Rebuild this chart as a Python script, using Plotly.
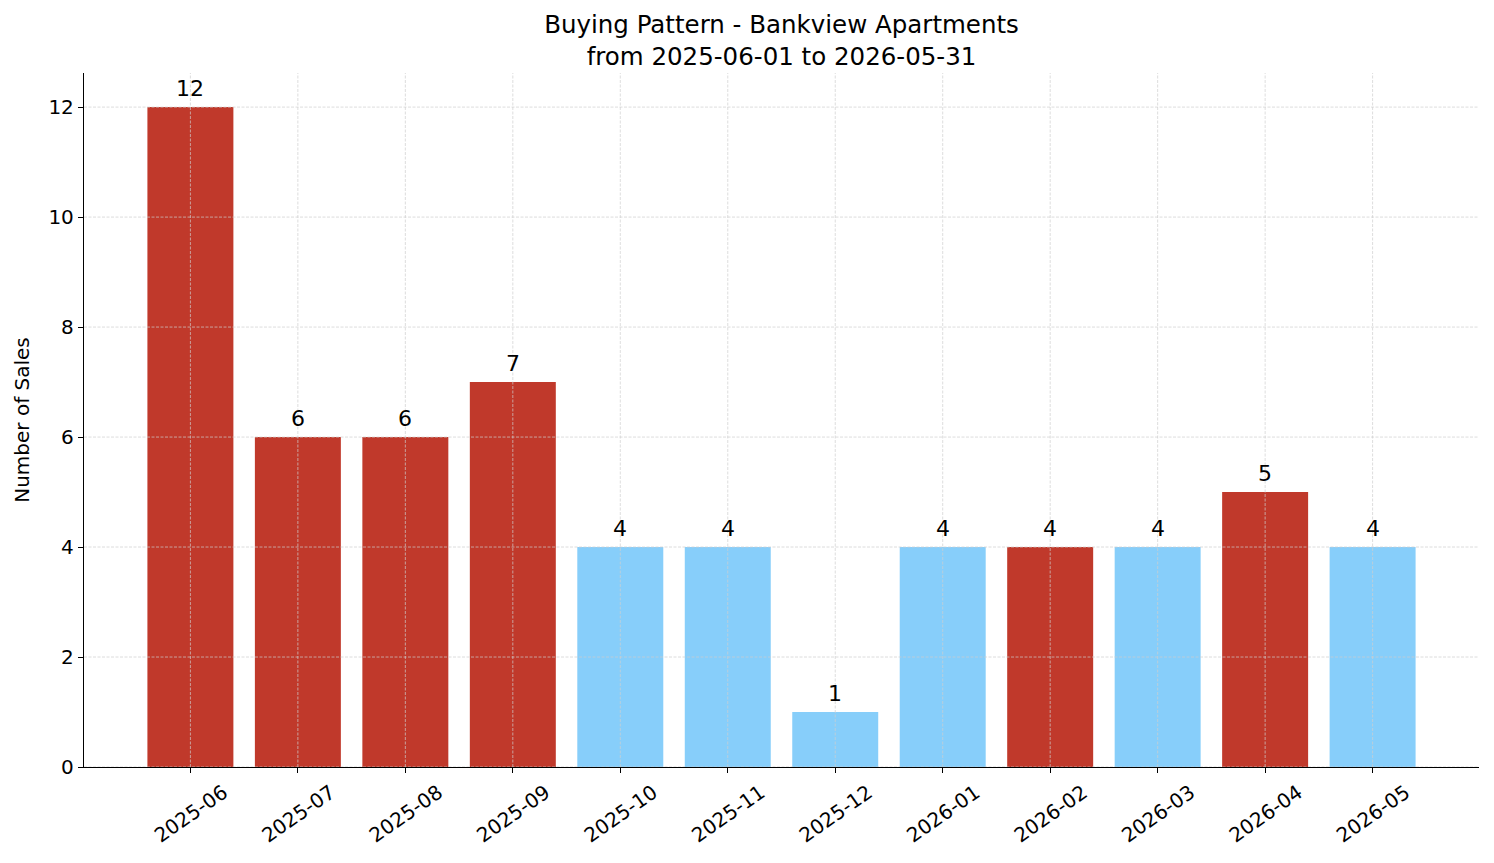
import plotly.graph_objects as go

months = ["2025-06", "2025-07", "2025-08", "2025-09", "2025-10", "2025-11",
          "2025-12", "2026-01", "2026-02", "2026-03", "2026-04", "2026-05"]
sales = [12, 6, 6, 7, 4, 4, 1, 4, 4, 4, 5, 4]
highlight = [True, True, True, True, False, False, False, False, True, False, True, False]
y_ticks = [0, 2, 4, 6, 8, 10, 12]

RED = "#c0392b"
BLUE = "#87cefa"
colors = [RED if h else BLUE for h in highlight]
FONT = "DejaVu Sans"

fig = go.Figure()
fig.add_trace(go.Bar(
    x=list(range(len(months))), y=sales,
    marker=dict(color=colors, line=dict(width=0)),
    width=0.8,
    cliponaxis=False,
))

for i, v in enumerate(sales):
    fig.add_annotation(x=i, y=v, text=str(v), showarrow=False,
                       yanchor="bottom", yshift=4,
                       font=dict(family=FONT, size=22, color="black"))

grid = dict(color="#cfcfcf", width=0.7, dash="3px,1.5px")
shapes = []
for i in range(len(months)):
    shapes.append(dict(type="line", xref="x", yref="paper", x0=i, x1=i, y0=0, y1=1,
                       line=grid, layer="above"))
for t in y_ticks:
    shapes.append(dict(type="line", xref="paper", yref="y", x0=0, x1=1, y0=t, y1=t,
                       line=grid, layer="above"))

fig.update_layout(
    width=1494, height=863,
    margin=dict(l=84, r=15, t=73, b=96),
    paper_bgcolor="white", plot_bgcolor="white",
    font=dict(family=FONT, color="black"),
    showlegend=False,
    title=dict(text="Buying Pattern - Bankview Apartments<br>from 2025-06-01 to 2026-05-31",
               x=0.5, xanchor="center", xref="paper", yref="container",
               y=0.962, yanchor="top",
               font=dict(family=FONT, size=24.5, color="black")),
    shapes=shapes,
    bargap=0.2,
)
fig.update_xaxes(
    range=[-0.99, 11.99], tickmode="array",
    tickvals=list(range(len(months))), ticktext=months, tickangle=-35,
    ticklabelshift=33,
    showgrid=False, zeroline=False,
    showline=True, linecolor="black", linewidth=1.3,
    ticks="outside", ticklen=5, tickwidth=1.2, tickcolor="black",
    tickfont=dict(family=FONT, size=20, color="black"),
)
fig.update_yaxes(
    range=[0, 12.62], tickmode="array", tickvals=y_ticks,
    showgrid=False, zeroline=False,
    showline=True, linecolor="black", linewidth=1.3,
    ticks="outside", ticklen=5, tickwidth=1.2, tickcolor="black",
    tickfont=dict(family=FONT, size=20, color="black"),
    title=dict(text="Number of Sales", font=dict(family=FONT, size=20, color="black"), standoff=13),
)

fig.write_html("out.html")
